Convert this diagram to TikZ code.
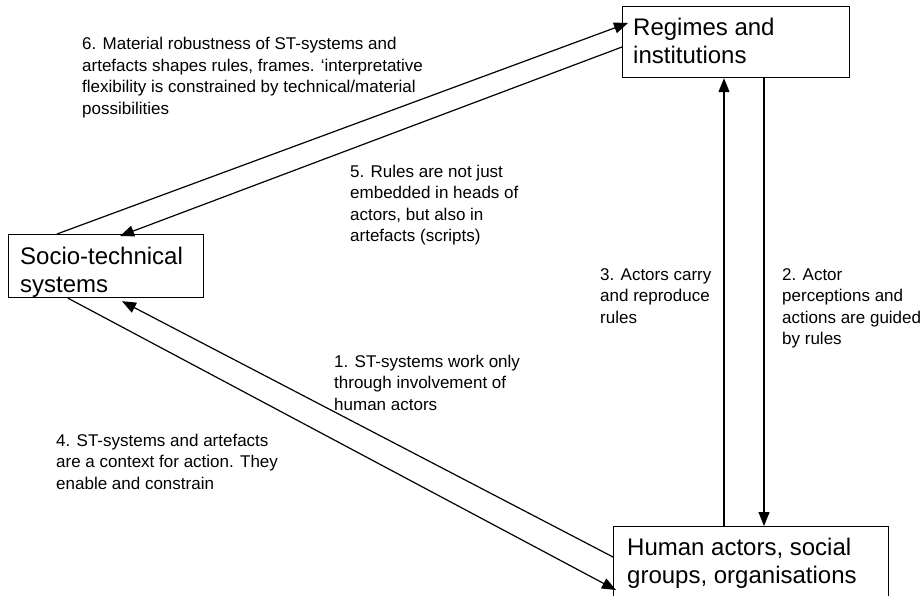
\documentclass[tikz,border=0pt]{standalone}
\usepackage{fontspec}
\setmainfont{Liberation Sans}
\usetikzlibrary{arrows.meta,calc}
\begin{document}
\begin{tikzpicture}[x=1pt,y=-1pt,
  box/.style={draw, line width=1.2pt, inner sep=0pt, anchor=north west},
  % multi-line texts are placed by the baseline of their last line
  boxtext/.style={anchor=base west, align=left, inner sep=0pt,
    font=\fontsize{24}{28}\selectfont},
  note/.style={anchor=base west, align=left, inner sep=0pt,
    font=\fontsize{17}{21.5}\selectfont},
  link/.style={line width=1.2pt, -{Triangle[length=14pt,width=11pt]}}]
  \useasboundingbox (0,0) rectangle (923,596);
  \clip (0,0) rectangle (923,596);
  \fill[white] (0,0) rectangle (923,596);

  % the three boxes
  \node[box, minimum width=227pt, minimum height=71pt] (reg) at (622,6) {};
  \node[box, minimum width=195pt, minimum height=63pt] (st) at (8,234) {};
  \node[box, minimum width=275pt, minimum height=100pt] (hum) at (613,526) {};

  \node[boxtext] (regtxt) at (633,64) {Regimes and\\institutions};
  \node[boxtext] (sttxt) at (20,292) {Socio-technical\\systems};
  \node[boxtext] (humtxt) at (627,583) {Human actors, social\\groups, organisations};

  % end points on the box edges
  \coordinate (a6s) at ($(st.north west)+(49,0)$);
  \coordinate (a6e) at ($(reg.north west)+(6,17)$);
  \coordinate (a5s) at ($(reg.north west)+(0,41)$);
  \coordinate (a5e) at ($(st.north west)+(112,2)$);
  \coordinate (a3s) at ($(hum.north west)+(111,0)$);
  \coordinate (a3e) at ($(reg.south west)+(102,0)$);
  \coordinate (a2s) at ($(reg.south west)+(142,0)$);
  \coordinate (a2e) at ($(hum.north west)+(151,0)$);
  \coordinate (a1s) at ($(hum.north west)+(0,31)$);
  \coordinate (a1e) at ($(st.south west)+(114,3)$);
  \coordinate (a4s) at ($(st.south west)+(60,0)$);
  \coordinate (a4e) at ($(hum.north west)+(3,64)$);

  % connectors
  \draw[link] (a6s) -- (a6e);
  \draw[link] (a5s) -- (a5e);
  \draw[link] (a3s) -- (a3e);
  \draw[link] (a2s) -- (a2e);
  \draw[link] (a1s) -- (a1e);
  \draw[link] (a4s) -- (a4e);

  % connector texts
  \node[note] (n6) at (82,114.5) {6. Material robustness of ST-systems and\\artefacts shapes rules, frames. `interpretative\\flexibility is constrained by technical/material\\possibilities};
  \node[note] (n5) at (350,241.5) {5. Rules are not just\\embedded in heads of\\actors, but also in\\artefacts (scripts)};
  \node[note] (n3) at (600,323) {3. Actors carry\\and reproduce\\rules};
  \node[note] (n2) at (782,344.5) {2. Actor\\perceptions and\\actions are guided\\by rules};
  \node[note] (n1) at (334,410) {1. ST-systems work only\\through involvement of\\human actors};
  \node[note] (n4) at (56,489) {4. ST-systems and artefacts\\are a context for action. They\\enable and constrain};
\end{tikzpicture}
\end{document}
